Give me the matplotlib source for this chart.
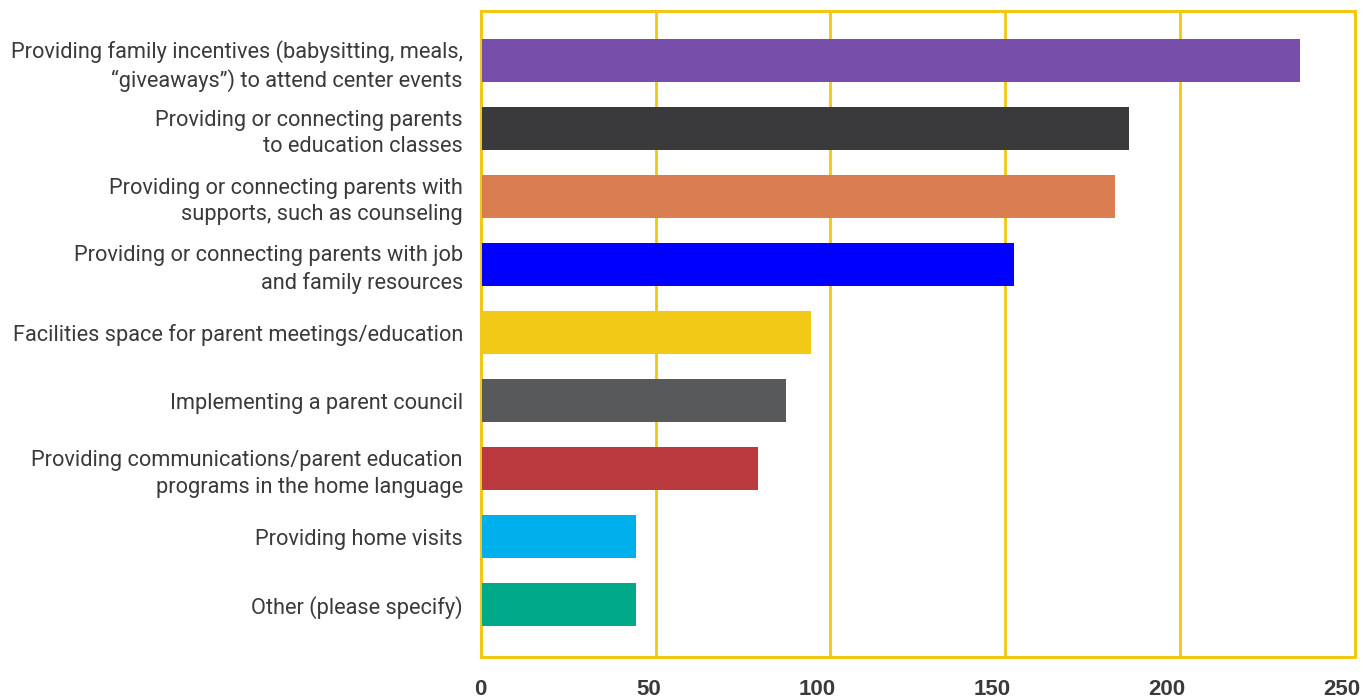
import matplotlib
matplotlib.use("Agg")
import matplotlib.pyplot as plt
from matplotlib.transforms import ScaledTranslation

# Survey responses per activity, top to bottom
activities = [
    "Providing family incentives (babysitting, meals,\n\u201cgiveaways\u201d) to attend center events",
    "Providing or connecting parents\nto education classes",
    "Providing or connecting parents with\nsupports, such as counseling",
    "Providing or connecting parents with job\nand family resources",
    "Facilities space for parent meetings/education",
    "Implementing a parent council",
    "Providing communications/parent education\nprograms in the home language",
    "Providing home visits",
    "Other (please specify)",
]
responses = [234, 185, 181, 152, 94, 87, 79, 44, 44]
bar_colors = ["#774EAA", "#3A3A3C", "#DA7E52", "#0000FF", "#F2C917",
              "#58595B", "#BA3A40", "#00B0ED", "#00A988"]
x_ticks = [0, 50, 100, 150, 200, 250]

gold = "#F2C812"
text_color = "#3A3A3A"

fig = plt.figure(figsize=(13.63, 7), dpi=100)
ax = fig.add_axes([0.3529, 0.0614, 0.6410, 0.9229])

ypos = list(range(len(activities)))
ax.barh(ypos, responses, height=0.63, color=bar_colors, left=0.4, zorder=3)

ax.set_xlim(0, 250)
ax.set_ylim(8.77, -0.725)

ax.set_xticks(x_ticks)
ax.set_xticklabels([str(t) for t in x_ticks], fontsize=16, fontweight="bold",
                   color=text_color, family="Liberation Sans", ha="right")
ax.tick_params(axis="x", length=0, pad=16)
# nudge the bold numbers so they sit just left of each gridline
shift = ScaledTranslation(4 / 72, 0, fig.dpi_scale_trans)
for lbl in ax.get_xticklabels():
    lbl.set_transform(lbl.get_transform() + shift)

ax.set_yticks(ypos)
ax.set_yticklabels(activities, fontsize=15.7, color=text_color,
                   family="Roboto", linespacing=1.35)
ax.tick_params(axis="y", length=0, pad=13)

ax.grid(axis="x", color=gold, linewidth=2, zorder=1)
for s in ax.spines.values():
    s.set_color(gold)
    s.set_linewidth(2.2)

fig.savefig("out.png", dpi=100, facecolor="white")
plt.close(fig)
